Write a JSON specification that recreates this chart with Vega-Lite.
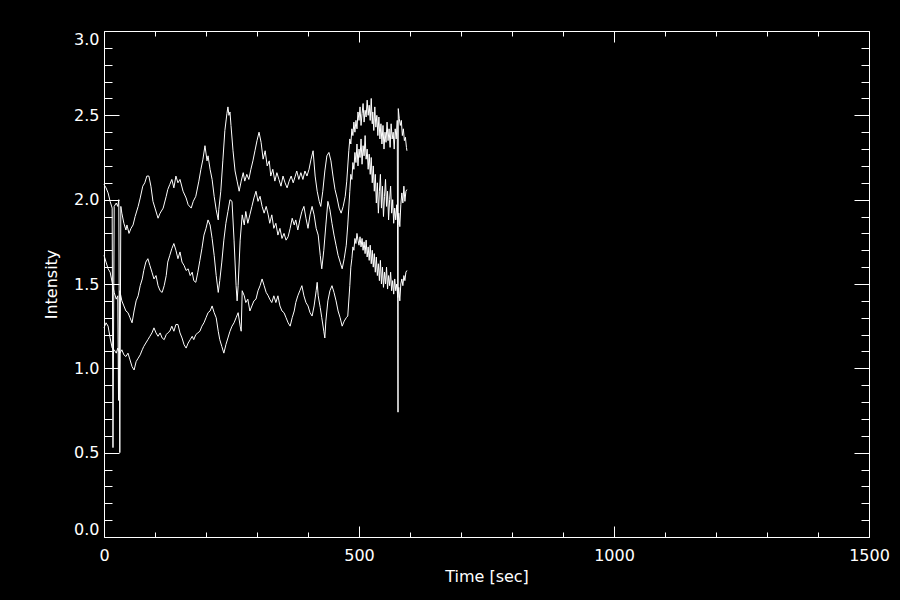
{
  "$schema": "https://vega.github.io/schema/vega-lite/v6.json",
  "width": 765,
  "height": 506,
  "autosize": {"type": "none"},
  "padding": {"left": 104, "top": 31, "right": 31, "bottom": 63},
  "background": "black",
  "view": {"stroke": null},
  "config": {
    "axis": {
      "domainColor": "white", "tickColor": "white", "labelColor": "white", "titleColor": "white",
      "labelFont": "DejaVu Sans", "titleFont": "DejaVu Sans", "labelFontSize": 16, "titleFontSize": 16,
      "titleFontWeight": "normal", "grid": false, "domainWidth": 1, "tickWidth": 1
    }
  },
  "data": {"values": [
    {"s":"a","t":0,"v":2.09},{"s":"a","t":4,"v":2.07},{"s":"a","t":8,"v":2.04},{"s":"a","t":12,"v":1.99},{"s":"a","t":16,"v":1.95},{"s":"a","t":17.6,"v":0.53},{"s":"a","t":20,"v":1.96},{"s":"a","t":24,"v":1.98},{"s":"a","t":27,"v":1.96},{"s":"a","t":29,"v":2.0},{"s":"a","t":31,"v":0.5},{"s":"a","t":33,"v":1.96},{"s":"a","t":35,"v":1.92},{"s":"a","t":39,"v":1.86},{"s":"a","t":43,"v":1.82},{"s":"a","t":45,"v":1.85},{"s":"a","t":49,"v":1.8},{"s":"a","t":53,"v":1.83},{"s":"a","t":57,"v":1.85},{"s":"a","t":61,"v":1.9},{"s":"a","t":67,"v":1.96},{"s":"a","t":71,"v":2.01},{"s":"a","t":76,"v":2.08},{"s":"a","t":80,"v":2.1},{"s":"a","t":84,"v":2.14},{"s":"a","t":88,"v":2.14},{"s":"a","t":92,"v":2.08},{"s":"a","t":96,"v":1.99},{"s":"a","t":100,"v":1.95},{"s":"a","t":106,"v":1.89},{"s":"a","t":110,"v":1.92},{"s":"a","t":116,"v":1.95},{"s":"a","t":122,"v":2.02},{"s":"a","t":125,"v":2.06},{"s":"a","t":129,"v":2.09},{"s":"a","t":133,"v":2.12},{"s":"a","t":137,"v":2.07},{"s":"a","t":141,"v":2.14},{"s":"a","t":145,"v":2.1},{"s":"a","t":149,"v":2.12},{"s":"a","t":155,"v":2.05},{"s":"a","t":161,"v":2.01},{"s":"a","t":165,"v":1.97},{"s":"a","t":171,"v":1.95},{"s":"a","t":175,"v":1.99},{"s":"a","t":180,"v":2.02},{"s":"a","t":186,"v":2.11},{"s":"a","t":190,"v":2.18},{"s":"a","t":194,"v":2.24},{"s":"a","t":198,"v":2.32},{"s":"a","t":202,"v":2.23},{"s":"a","t":204,"v":2.26},{"s":"a","t":208,"v":2.18},{"s":"a","t":212,"v":2.12},{"s":"a","t":216,"v":2.02},{"s":"a","t":220,"v":1.94},{"s":"a","t":224,"v":1.88},{"s":"a","t":225,"v":1.94},{"s":"a","t":229,"v":2.05},{"s":"a","t":233,"v":2.23},{"s":"a","t":237,"v":2.41},{"s":"a","t":241,"v":2.51},{"s":"a","t":243,"v":2.55},{"s":"a","t":245,"v":2.5},{"s":"a","t":247,"v":2.52},{"s":"a","t":249,"v":2.44},{"s":"a","t":253,"v":2.29},{"s":"a","t":257,"v":2.17},{"s":"a","t":261,"v":2.11},{"s":"a","t":265,"v":2.05},{"s":"a","t":269,"v":2.11},{"s":"a","t":273,"v":2.16},{"s":"a","t":276,"v":2.11},{"s":"a","t":280,"v":2.15},{"s":"a","t":284,"v":2.12},{"s":"a","t":288,"v":2.18},{"s":"a","t":292,"v":2.23},{"s":"a","t":296,"v":2.29},{"s":"a","t":300,"v":2.35},{"s":"a","t":304,"v":2.4},{"s":"a","t":308,"v":2.34},{"s":"a","t":312,"v":2.24},{"s":"a","t":316,"v":2.29},{"s":"a","t":320,"v":2.2},{"s":"a","t":324,"v":2.23},{"s":"a","t":327,"v":2.14},{"s":"a","t":331,"v":2.18},{"s":"a","t":335,"v":2.11},{"s":"a","t":339,"v":2.16},{"s":"a","t":343,"v":2.12},{"s":"a","t":347,"v":2.08},{"s":"a","t":351,"v":2.14},{"s":"a","t":355,"v":2.1},{"s":"a","t":359,"v":2.07},{"s":"a","t":363,"v":2.11},{"s":"a","t":367,"v":2.14},{"s":"a","t":371,"v":2.1},{"s":"a","t":375,"v":2.14},{"s":"a","t":378,"v":2.17},{"s":"a","t":382,"v":2.12},{"s":"a","t":386,"v":2.16},{"s":"a","t":390,"v":2.12},{"s":"a","t":394,"v":2.17},{"s":"a","t":398,"v":2.14},{"s":"a","t":402,"v":2.18},{"s":"a","t":406,"v":2.24},{"s":"a","t":410,"v":2.29},{"s":"a","t":414,"v":2.14},{"s":"a","t":418,"v":2.05},{"s":"a","t":422,"v":1.99},{"s":"a","t":425,"v":1.96},{"s":"a","t":429,"v":2.05},{"s":"a","t":433,"v":2.17},{"s":"a","t":437,"v":2.26},{"s":"a","t":441,"v":2.28},{"s":"a","t":445,"v":2.23},{"s":"a","t":449,"v":2.14},{"s":"a","t":453,"v":2.06},{"s":"a","t":457,"v":2.01},{"s":"a","t":461,"v":1.95},{"s":"a","t":465,"v":1.92},{"s":"a","t":469,"v":1.96},{"s":"a","t":473,"v":2.02},{"s":"a","t":476,"v":2.11},{"s":"a","t":480,"v":2.29},{"s":"a","t":482,"v":2.36},{"s":"a","t":484,"v":2.33},{"s":"a","t":486,"v":2.42},{"s":"a","t":488,"v":2.38},{"s":"a","t":490,"v":2.46},{"s":"a","t":492,"v":2.4},{"s":"a","t":494,"v":2.47},{"s":"a","t":496,"v":2.42},{"s":"a","t":498,"v":2.52},{"s":"a","t":500,"v":2.47},{"s":"a","t":502,"v":2.55},{"s":"a","t":504,"v":2.44},{"s":"a","t":506,"v":2.51},{"s":"a","t":508,"v":2.57},{"s":"a","t":510,"v":2.46},{"s":"a","t":512,"v":2.53},{"s":"a","t":514,"v":2.49},{"s":"a","t":516,"v":2.59},{"s":"a","t":518,"v":2.5},{"s":"a","t":520,"v":2.56},{"s":"a","t":522,"v":2.47},{"s":"a","t":524,"v":2.6},{"s":"a","t":526,"v":2.45},{"s":"a","t":527,"v":2.52},{"s":"a","t":529,"v":2.41},{"s":"a","t":531,"v":2.55},{"s":"a","t":533,"v":2.43},{"s":"a","t":535,"v":2.5},{"s":"a","t":537,"v":2.38},{"s":"a","t":539,"v":2.49},{"s":"a","t":541,"v":2.36},{"s":"a","t":543,"v":2.45},{"s":"a","t":545,"v":2.33},{"s":"a","t":547,"v":2.44},{"s":"a","t":549,"v":2.3},{"s":"a","t":551,"v":2.4},{"s":"a","t":553,"v":2.34},{"s":"a","t":555,"v":2.46},{"s":"a","t":557,"v":2.35},{"s":"a","t":559,"v":2.42},{"s":"a","t":561,"v":2.31},{"s":"a","t":563,"v":2.45},{"s":"a","t":565,"v":2.36},{"s":"a","t":567,"v":2.4},{"s":"a","t":569,"v":2.3},{"s":"a","t":571,"v":2.42},{"s":"a","t":573,"v":2.36},{"s":"a","t":575,"v":2.47},{"s":"a","t":576.5,"v":0.74},{"s":"a","t":577,"v":2.54},{"s":"a","t":579,"v":2.48},{"s":"a","t":581,"v":2.44},{"s":"a","t":583,"v":2.47},{"s":"a","t":585,"v":2.38},{"s":"a","t":587,"v":2.42},{"s":"a","t":589,"v":2.35},{"s":"a","t":591,"v":2.37},{"s":"a","t":593,"v":2.31},{"s":"a","t":594,"v":2.29},
    {"s":"b","t":0,"v":1.67},{"s":"b","t":4,"v":1.63},{"s":"b","t":8,"v":1.59},{"s":"b","t":12,"v":1.57},{"s":"b","t":16,"v":1.51},{"s":"b","t":20,"v":1.45},{"s":"b","t":24,"v":1.41},{"s":"b","t":27,"v":1.43},{"s":"b","t":28.5,"v":0.81},{"s":"b","t":31,"v":1.46},{"s":"b","t":35,"v":1.4},{"s":"b","t":39,"v":1.37},{"s":"b","t":43,"v":1.34},{"s":"b","t":47,"v":1.33},{"s":"b","t":51,"v":1.3},{"s":"b","t":55,"v":1.27},{"s":"b","t":59,"v":1.34},{"s":"b","t":63,"v":1.4},{"s":"b","t":67,"v":1.43},{"s":"b","t":71,"v":1.49},{"s":"b","t":75,"v":1.53},{"s":"b","t":78,"v":1.58},{"s":"b","t":82,"v":1.63},{"s":"b","t":86,"v":1.65},{"s":"b","t":90,"v":1.61},{"s":"b","t":94,"v":1.57},{"s":"b","t":98,"v":1.53},{"s":"b","t":102,"v":1.55},{"s":"b","t":106,"v":1.49},{"s":"b","t":110,"v":1.46},{"s":"b","t":114,"v":1.45},{"s":"b","t":118,"v":1.49},{"s":"b","t":122,"v":1.55},{"s":"b","t":125,"v":1.63},{"s":"b","t":129,"v":1.67},{"s":"b","t":133,"v":1.71},{"s":"b","t":137,"v":1.74},{"s":"b","t":141,"v":1.7},{"s":"b","t":145,"v":1.65},{"s":"b","t":149,"v":1.69},{"s":"b","t":153,"v":1.63},{"s":"b","t":157,"v":1.61},{"s":"b","t":161,"v":1.58},{"s":"b","t":165,"v":1.59},{"s":"b","t":169,"v":1.55},{"s":"b","t":173,"v":1.57},{"s":"b","t":176,"v":1.52},{"s":"b","t":180,"v":1.51},{"s":"b","t":184,"v":1.57},{"s":"b","t":188,"v":1.64},{"s":"b","t":192,"v":1.71},{"s":"b","t":196,"v":1.79},{"s":"b","t":200,"v":1.83},{"s":"b","t":204,"v":1.88},{"s":"b","t":208,"v":1.85},{"s":"b","t":212,"v":1.77},{"s":"b","t":216,"v":1.67},{"s":"b","t":220,"v":1.55},{"s":"b","t":224,"v":1.45},{"s":"b","t":227,"v":1.52},{"s":"b","t":231,"v":1.63},{"s":"b","t":235,"v":1.76},{"s":"b","t":239,"v":1.86},{"s":"b","t":243,"v":1.93},{"s":"b","t":247,"v":2.0},{"s":"b","t":251,"v":1.99},{"s":"b","t":255,"v":1.76},{"s":"b","t":259,"v":1.49},{"s":"b","t":261,"v":1.4},{"s":"b","t":263,"v":1.49},{"s":"b","t":267,"v":1.76},{"s":"b","t":271,"v":1.91},{"s":"b","t":275,"v":1.85},{"s":"b","t":278,"v":1.93},{"s":"b","t":282,"v":1.86},{"s":"b","t":286,"v":1.91},{"s":"b","t":290,"v":1.96},{"s":"b","t":294,"v":2.01},{"s":"b","t":298,"v":2.05},{"s":"b","t":302,"v":1.99},{"s":"b","t":306,"v":2.02},{"s":"b","t":310,"v":1.96},{"s":"b","t":314,"v":1.92},{"s":"b","t":318,"v":1.96},{"s":"b","t":322,"v":1.91},{"s":"b","t":325,"v":1.86},{"s":"b","t":329,"v":1.91},{"s":"b","t":333,"v":1.83},{"s":"b","t":337,"v":1.86},{"s":"b","t":341,"v":1.79},{"s":"b","t":345,"v":1.83},{"s":"b","t":349,"v":1.77},{"s":"b","t":353,"v":1.8},{"s":"b","t":357,"v":1.76},{"s":"b","t":361,"v":1.78},{"s":"b","t":365,"v":1.83},{"s":"b","t":369,"v":1.89},{"s":"b","t":373,"v":1.85},{"s":"b","t":376,"v":1.88},{"s":"b","t":380,"v":1.82},{"s":"b","t":384,"v":1.88},{"s":"b","t":388,"v":1.93},{"s":"b","t":392,"v":1.96},{"s":"b","t":396,"v":1.89},{"s":"b","t":400,"v":1.83},{"s":"b","t":404,"v":1.91},{"s":"b","t":408,"v":1.96},{"s":"b","t":412,"v":1.91},{"s":"b","t":416,"v":1.83},{"s":"b","t":420,"v":1.79},{"s":"b","t":424,"v":1.67},{"s":"b","t":427,"v":1.59},{"s":"b","t":431,"v":1.7},{"s":"b","t":435,"v":1.85},{"s":"b","t":439,"v":1.99},{"s":"b","t":443,"v":1.94},{"s":"b","t":447,"v":1.86},{"s":"b","t":451,"v":1.79},{"s":"b","t":455,"v":1.73},{"s":"b","t":459,"v":1.67},{"s":"b","t":463,"v":1.63},{"s":"b","t":467,"v":1.59},{"s":"b","t":471,"v":1.65},{"s":"b","t":475,"v":1.73},{"s":"b","t":478,"v":1.85},{"s":"b","t":482,"v":2.05},{"s":"b","t":484,"v":2.15},{"s":"b","t":486,"v":2.12},{"s":"b","t":488,"v":2.22},{"s":"b","t":490,"v":2.18},{"s":"b","t":492,"v":2.28},{"s":"b","t":494,"v":2.22},{"s":"b","t":496,"v":2.33},{"s":"b","t":498,"v":2.2},{"s":"b","t":500,"v":2.3},{"s":"b","t":502,"v":2.25},{"s":"b","t":504,"v":2.36},{"s":"b","t":506,"v":2.21},{"s":"b","t":508,"v":2.32},{"s":"b","t":510,"v":2.26},{"s":"b","t":512,"v":2.38},{"s":"b","t":514,"v":2.24},{"s":"b","t":516,"v":2.3},{"s":"b","t":518,"v":2.18},{"s":"b","t":520,"v":2.27},{"s":"b","t":522,"v":2.15},{"s":"b","t":524,"v":2.25},{"s":"b","t":526,"v":2.1},{"s":"b","t":528,"v":2.2},{"s":"b","t":530,"v":2.05},{"s":"b","t":532,"v":2.15},{"s":"b","t":534,"v":1.98},{"s":"b","t":536,"v":2.1},{"s":"b","t":538,"v":1.92},{"s":"b","t":540,"v":2.05},{"s":"b","t":542,"v":2.15},{"s":"b","t":544,"v":1.95},{"s":"b","t":546,"v":2.08},{"s":"b","t":548,"v":1.9},{"s":"b","t":550,"v":2.02},{"s":"b","t":552,"v":2.12},{"s":"b","t":554,"v":1.96},{"s":"b","t":556,"v":2.05},{"s":"b","t":558,"v":1.88},{"s":"b","t":560,"v":2.0},{"s":"b","t":562,"v":2.08},{"s":"b","t":564,"v":1.92},{"s":"b","t":566,"v":2.0},{"s":"b","t":568,"v":1.86},{"s":"b","t":570,"v":1.95},{"s":"b","t":572,"v":1.88},{"s":"b","t":574,"v":1.97},{"s":"b","t":576,"v":1.85},{"s":"b","t":578,"v":1.92},{"s":"b","t":580,"v":1.84},{"s":"b","t":582,"v":1.97},{"s":"b","t":584,"v":2.04},{"s":"b","t":586,"v":1.98},{"s":"b","t":588,"v":2.08},{"s":"b","t":590,"v":1.99},{"s":"b","t":592,"v":2.05},{"s":"b","t":594,"v":2.06},
    {"s":"c","t":0,"v":1.24},{"s":"c","t":4,"v":1.27},{"s":"c","t":8,"v":1.25},{"s":"c","t":12,"v":1.18},{"s":"c","t":16,"v":1.12},{"s":"c","t":20,"v":1.11},{"s":"c","t":24,"v":1.09},{"s":"c","t":27,"v":1.12},{"s":"c","t":31,"v":1.09},{"s":"c","t":35,"v":1.11},{"s":"c","t":39,"v":1.08},{"s":"c","t":43,"v":1.07},{"s":"c","t":47,"v":1.09},{"s":"c","t":51,"v":1.05},{"s":"c","t":55,"v":1.01},{"s":"c","t":59,"v":0.99},{"s":"c","t":63,"v":1.04},{"s":"c","t":67,"v":1.06},{"s":"c","t":71,"v":1.08},{"s":"c","t":75,"v":1.11},{"s":"c","t":78,"v":1.13},{"s":"c","t":82,"v":1.15},{"s":"c","t":86,"v":1.17},{"s":"c","t":90,"v":1.19},{"s":"c","t":94,"v":1.21},{"s":"c","t":98,"v":1.24},{"s":"c","t":102,"v":1.21},{"s":"c","t":106,"v":1.19},{"s":"c","t":110,"v":1.21},{"s":"c","t":114,"v":1.18},{"s":"c","t":118,"v":1.17},{"s":"c","t":122,"v":1.2},{"s":"c","t":125,"v":1.21},{"s":"c","t":129,"v":1.22},{"s":"c","t":133,"v":1.25},{"s":"c","t":137,"v":1.22},{"s":"c","t":141,"v":1.26},{"s":"c","t":145,"v":1.26},{"s":"c","t":149,"v":1.21},{"s":"c","t":153,"v":1.18},{"s":"c","t":157,"v":1.14},{"s":"c","t":161,"v":1.12},{"s":"c","t":165,"v":1.15},{"s":"c","t":169,"v":1.17},{"s":"c","t":173,"v":1.19},{"s":"c","t":176,"v":1.17},{"s":"c","t":180,"v":1.2},{"s":"c","t":184,"v":1.21},{"s":"c","t":188,"v":1.22},{"s":"c","t":192,"v":1.25},{"s":"c","t":196,"v":1.27},{"s":"c","t":200,"v":1.3},{"s":"c","t":204,"v":1.33},{"s":"c","t":208,"v":1.34},{"s":"c","t":212,"v":1.37},{"s":"c","t":216,"v":1.33},{"s":"c","t":220,"v":1.3},{"s":"c","t":224,"v":1.22},{"s":"c","t":227,"v":1.17},{"s":"c","t":231,"v":1.13},{"s":"c","t":235,"v":1.09},{"s":"c","t":239,"v":1.14},{"s":"c","t":243,"v":1.18},{"s":"c","t":247,"v":1.22},{"s":"c","t":251,"v":1.25},{"s":"c","t":255,"v":1.27},{"s":"c","t":259,"v":1.3},{"s":"c","t":263,"v":1.33},{"s":"c","t":267,"v":1.25},{"s":"c","t":269,"v":1.22},{"s":"c","t":271,"v":1.46},{"s":"c","t":275,"v":1.43},{"s":"c","t":278,"v":1.39},{"s":"c","t":282,"v":1.41},{"s":"c","t":286,"v":1.34},{"s":"c","t":290,"v":1.37},{"s":"c","t":294,"v":1.4},{"s":"c","t":298,"v":1.41},{"s":"c","t":302,"v":1.46},{"s":"c","t":306,"v":1.49},{"s":"c","t":310,"v":1.53},{"s":"c","t":314,"v":1.49},{"s":"c","t":318,"v":1.45},{"s":"c","t":322,"v":1.43},{"s":"c","t":325,"v":1.41},{"s":"c","t":329,"v":1.39},{"s":"c","t":333,"v":1.43},{"s":"c","t":337,"v":1.39},{"s":"c","t":341,"v":1.43},{"s":"c","t":345,"v":1.37},{"s":"c","t":349,"v":1.34},{"s":"c","t":353,"v":1.33},{"s":"c","t":357,"v":1.3},{"s":"c","t":361,"v":1.27},{"s":"c","t":365,"v":1.25},{"s":"c","t":369,"v":1.3},{"s":"c","t":373,"v":1.34},{"s":"c","t":376,"v":1.39},{"s":"c","t":380,"v":1.43},{"s":"c","t":384,"v":1.46},{"s":"c","t":388,"v":1.49},{"s":"c","t":392,"v":1.43},{"s":"c","t":396,"v":1.39},{"s":"c","t":400,"v":1.37},{"s":"c","t":404,"v":1.33},{"s":"c","t":408,"v":1.31},{"s":"c","t":412,"v":1.37},{"s":"c","t":416,"v":1.46},{"s":"c","t":418,"v":1.51},{"s":"c","t":420,"v":1.43},{"s":"c","t":424,"v":1.36},{"s":"c","t":427,"v":1.3},{"s":"c","t":431,"v":1.22},{"s":"c","t":433,"v":1.18},{"s":"c","t":435,"v":1.28},{"s":"c","t":439,"v":1.4},{"s":"c","t":443,"v":1.46},{"s":"c","t":447,"v":1.49},{"s":"c","t":451,"v":1.45},{"s":"c","t":455,"v":1.4},{"s":"c","t":459,"v":1.34},{"s":"c","t":463,"v":1.3},{"s":"c","t":467,"v":1.25},{"s":"c","t":471,"v":1.28},{"s":"c","t":475,"v":1.3},{"s":"c","t":478,"v":1.31},{"s":"c","t":482,"v":1.49},{"s":"c","t":484,"v":1.6},{"s":"c","t":486,"v":1.65},{"s":"c","t":488,"v":1.72},{"s":"c","t":490,"v":1.7},{"s":"c","t":492,"v":1.77},{"s":"c","t":494,"v":1.74},{"s":"c","t":496,"v":1.8},{"s":"c","t":498,"v":1.76},{"s":"c","t":500,"v":1.73},{"s":"c","t":502,"v":1.78},{"s":"c","t":504,"v":1.72},{"s":"c","t":506,"v":1.77},{"s":"c","t":508,"v":1.7},{"s":"c","t":510,"v":1.75},{"s":"c","t":512,"v":1.68},{"s":"c","t":514,"v":1.76},{"s":"c","t":516,"v":1.66},{"s":"c","t":518,"v":1.72},{"s":"c","t":520,"v":1.64},{"s":"c","t":522,"v":1.73},{"s":"c","t":524,"v":1.62},{"s":"c","t":526,"v":1.7},{"s":"c","t":528,"v":1.6},{"s":"c","t":530,"v":1.68},{"s":"c","t":532,"v":1.57},{"s":"c","t":534,"v":1.66},{"s":"c","t":536,"v":1.55},{"s":"c","t":538,"v":1.62},{"s":"c","t":540,"v":1.52},{"s":"c","t":542,"v":1.64},{"s":"c","t":544,"v":1.5},{"s":"c","t":546,"v":1.6},{"s":"c","t":548,"v":1.48},{"s":"c","t":550,"v":1.57},{"s":"c","t":552,"v":1.5},{"s":"c","t":554,"v":1.6},{"s":"c","t":556,"v":1.47},{"s":"c","t":558,"v":1.55},{"s":"c","t":560,"v":1.49},{"s":"c","t":562,"v":1.57},{"s":"c","t":564,"v":1.46},{"s":"c","t":566,"v":1.52},{"s":"c","t":568,"v":1.44},{"s":"c","t":570,"v":1.53},{"s":"c","t":572,"v":1.46},{"s":"c","t":574,"v":1.5},{"s":"c","t":576,"v":1.42},{"s":"c","t":578,"v":1.48},{"s":"c","t":580,"v":1.4},{"s":"c","t":582,"v":1.5},{"s":"c","t":584,"v":1.53},{"s":"c","t":586,"v":1.49},{"s":"c","t":588,"v":1.55},{"s":"c","t":590,"v":1.52},{"s":"c","t":592,"v":1.57},{"s":"c","t":594,"v":1.58}
  ]},
  "resolve": {"axis": {"x": "independent", "y": "independent"}},
  "layer": [
    {
      "mark": {"type": "line", "color": "white", "strokeWidth": 1, "interpolate": "linear"},
      "encoding": {
        "x": {"field": "t", "type": "quantitative", "scale": {"domain": [0, 1500], "nice": false, "zero": false},
          "axis": {"orient": "bottom", "title": "Time [sec]", "titlePadding": -1,
            "values": [0,100,200,300,400,500,600,700,800,900,1000,1100,1200,1300,1400,1500],
            "tickSize": {"condition": {"test": "datum.value % 500 === 0", "value": -11}, "value": -5},
            "labelExpr": "datum.value % 500 === 0 ? format(datum.value, 'd') : ''",
            "labelPadding": 21, "labelOverlap": false, "labelFlush": false}},
        "y": {"field": "v", "type": "quantitative", "scale": {"domain": [0, 3], "nice": false},
          "axis": {"orient": "left", "title": "Intensity", "titlePadding": 14,
            "values": [0,0.1,0.2,0.3,0.4,0.5,0.6,0.7,0.8,0.9,1,1.1,1.2,1.3,1.4,1.5,1.6,1.7,1.8,1.9,2,2.1,2.2,2.3,2.4,2.5,2.6,2.7,2.8,2.9,3],
            "tickSize": {"condition": {"test": "round(datum.value*10) % 5 === 0", "value": -15}, "value": -8},
            "labelExpr": "round(datum.value*10) % 5 === 0 ? format(datum.value, '.1f') : ''",
            "labelPadding": 20, "labelOverlap": false, "labelFlush": true}},
        "detail": {"field": "s"}
      }
    },
    {
      "mark": {"type": "line", "color": "white", "strokeOpacity": 0},
      "encoding": {
        "x": {"field": "t", "type": "quantitative", "scale": {"domain": [0, 1500], "nice": false, "zero": false},
          "axis": {"orient": "top", "title": null, "labels": false,
            "values": [0,100,200,300,400,500,600,700,800,900,1000,1100,1200,1300,1400,1500],
            "tickSize": {"condition": {"test": "datum.value % 500 === 0", "value": -11}, "value": -5}}},
        "y": {"field": "v", "type": "quantitative", "scale": {"domain": [0, 3], "nice": false},
          "axis": {"orient": "right", "title": null, "labels": false,
            "values": [0,0.1,0.2,0.3,0.4,0.5,0.6,0.7,0.8,0.9,1,1.1,1.2,1.3,1.4,1.5,1.6,1.7,1.8,1.9,2,2.1,2.2,2.3,2.4,2.5,2.6,2.7,2.8,2.9,3],
            "tickSize": {"condition": {"test": "round(datum.value*10) % 5 === 0", "value": -15}, "value": -8}}},
        "detail": {"field": "s"}
      }
    }
  ]
}
